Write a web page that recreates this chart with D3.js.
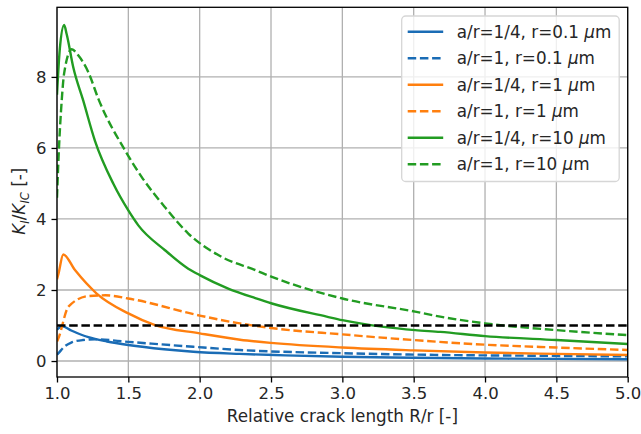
<!DOCTYPE html>
<html>
<head>
<meta charset="utf-8">
<script src="https://cdn.jsdelivr.net/npm/d3@7"></script>
<style>
  body { margin: 0; background: #fff; }
  text { font-family: "DejaVu Sans", sans-serif; fill: #262626; }
</style>
</head>
<body>
<svg id="chart"></svg>
<script>
const WIDTH = 641
const HEIGHT = 434

// series values, [R/r, KI/KIC]
const blueSolid = [[1.0, 0.88], [1.01, 0.92], [1.037, 0.98], [1.1, 0.86], [1.22, 0.67], [1.35, 0.55], [1.5, 0.45], [1.75, 0.33], [1.956, 0.26], [2.28, 0.2], [2.6, 0.16], [3.0, 0.12], [3.5, 0.09], [4.0, 0.07], [4.5, 0.06], [5.0, 0.05]]
const blueDashed = [[1.0, 0.18], [1.01, 0.22], [1.05, 0.4], [1.1, 0.52], [1.18, 0.59], [1.27, 0.61], [1.5, 0.54], [1.956, 0.4], [2.28, 0.31], [3.0, 0.22], [3.7, 0.17], [4.3, 0.15], [5.0, 0.13]]
const orangeSolid = [[1.0, 2.3], [1.01, 2.45], [1.044, 3.0], [1.126, 2.56], [1.278, 1.9], [1.5, 1.34], [1.687, 1.01], [2.0, 0.78], [2.283, 0.6], [2.5, 0.51], [3.0, 0.38], [3.5, 0.3], [4.0, 0.24], [4.5, 0.2], [5.0, 0.17]]
const orangeDashed = [[1.0, 0.55], [1.01, 0.64], [1.08, 1.53], [1.22, 1.83], [1.34, 1.85], [1.5, 1.76], [2.0, 1.28], [2.25, 1.08], [2.5, 0.93], [3.0, 0.75], [3.5, 0.59], [4.0, 0.46], [4.5, 0.38], [5.0, 0.31]]
const greenSolid = [[1.0, 7.5], [1.02, 8.8], [1.05, 9.46], [1.068, 9.2], [1.114, 8.27], [1.184, 7.33], [1.266, 6.2], [1.395, 4.99], [1.5, 4.24], [1.57, 3.82], [1.757, 3.12], [1.92, 2.6], [2.0, 2.42], [2.2, 2.04], [2.39, 1.77], [2.506, 1.62], [2.89, 1.25], [3.0, 1.15], [3.29, 0.96], [3.51, 0.87], [3.686, 0.82], [4.0, 0.7], [4.5, 0.59], [5.0, 0.48]]
const greenDashed = [[1.0, 4.6], [1.01, 5.65], [1.033, 7.33], [1.05, 8.1], [1.103, 8.78], [1.15, 8.6], [1.22, 8.13], [1.29, 7.38], [1.477, 5.93], [1.594, 5.18], [1.757, 4.33], [1.92, 3.59], [2.155, 2.93], [2.39, 2.56], [2.506, 2.37], [3.0, 1.76], [3.51, 1.39], [3.686, 1.25], [4.0, 1.06], [4.5, 0.87], [5.0, 0.73]]
const threshold = [[1.0, 1.0], [5.0, 1.0]]

const seriesNames = ["a/r=1/4, r=0.1 ", "a/r=1, r=0.1 ", "a/r=1/4, r=1 ", "a/r=1, r=1 ", "a/r=1/4, r=10 ", "a/r=1, r=10 "]
const seriesData = [blueSolid, blueDashed, orangeSolid, orangeDashed, greenSolid, greenDashed]
const seriesColors = ["#1a6cb5", "#1a6cb5", "#ff7f0e", "#ff7f0e", "#229c22", "#229c22"]
const seriesDashed = [false, true, false, true, false, true]

const xTicks = [1.0, 1.5, 2.0, 2.5, 3.0, 3.5, 4.0, 4.5, 5.0]
const yTicks = [0, 2, 4, 6, 8]

const margin = { left: 57, right: 13.3, top: 7.3, bottom: 57 }
const plotW = WIDTH - margin.left - margin.right
const plotH = HEIGHT - margin.top - margin.bottom
const DASH = "8.5,3.7"

let svg = d3.select("#chart")
  .attr("width", WIDTH)
  .attr("height", HEIGHT)

let x = d3.scaleLinear().domain([1, 5]).range([0, plotW])
let y = d3.scaleLinear().domain([-0.45, 9.96]).range([plotH, 0])

let g = svg.append("g")
  .attr("transform", `translate(${margin.left}, ${margin.top})`)

g.append("clipPath").attr("id", "clip")
  .append("rect").attr("width", plotW).attr("height", plotH)

// grid
g.append("g").selectAll("line")
  .data(xTicks).enter().append("line")
  .attr("x1", d => x(d)).attr("x2", d => x(d))
  .attr("y1", 0).attr("y2", plotH)
  .attr("stroke", "#b0b0b0").attr("stroke-width", 1.3)
g.append("g").selectAll("line")
  .data(yTicks).enter().append("line")
  .attr("x1", 0).attr("x2", plotW)
  .attr("y1", d => y(d)).attr("y2", d => y(d))
  .attr("stroke", "#b0b0b0").attr("stroke-width", 1.3)

let line = d3.line()
  .x(d => x(d[0]))
  .y(d => y(d[1]))
  .curve(d3.curveMonotoneX)

let lines = g.append("g").attr("clip-path", "url(#clip)")

seriesData.forEach((data, i) => {
  lines.append("path")
    .datum(data)
    .attr("d", line)
    .attr("fill", "none")
    .attr("stroke", seriesColors[i])
    .attr("stroke-width", 2.4)
    .attr("stroke-dasharray", seriesDashed[i] ? DASH : null)
})

lines.append("path")
  .datum(threshold)
  .attr("d", d3.line().x(d => x(d[0])).y(d => y(d[1])))
  .attr("fill", "none")
  .attr("stroke", "#000")
  .attr("stroke-width", 2.4)
  .attr("stroke-dasharray", DASH)

// axes
let xAxis = g.append("g")
  .attr("transform", `translate(0, ${plotH})`)
  .call(d3.axisBottom(x).tickValues(xTicks).tickFormat(d3.format(".1f")).tickSizeOuter(0).tickSize(5.5).tickPadding(5))
let yAxis = g.append("g")
  .call(d3.axisLeft(y).tickValues(yTicks).tickSizeOuter(0).tickSize(5.5).tickPadding(5))

;[xAxis, yAxis].forEach(ax => {
  ax.select(".domain").remove()
  ax.selectAll(".tick line").attr("stroke", "#000").attr("stroke-width", 1.3)
  ax.selectAll(".tick text")
    .style("font-family", "DejaVu Sans, sans-serif")
    .style("font-size", "16.5px")
    .attr("fill", "#262626")
})

g.append("rect")
  .attr("width", plotW).attr("height", plotH)
  .attr("fill", "none").attr("stroke", "#000").attr("stroke-width", 1.3)

// axis labels
svg.append("text")
  .attr("x", margin.left + plotW / 2)
  .attr("y", 422)
  .attr("text-anchor", "middle")
  .style("font-size", "16.8px")
  .text("Relative crack length R/r [-]")

let yLabel = svg.append("text")
  .attr("transform", `translate(25, ${margin.top + y(4.5)}) rotate(-90)`)
  .attr("text-anchor", "middle")
  .style("font-size", "16.8px")
yLabel.append("tspan").style("font-style", "italic").text("K")
yLabel.append("tspan").style("font-style", "italic").style("font-size", "11.5px").attr("dy", 4).text("I")
yLabel.append("tspan").attr("dy", -4).text("/")
yLabel.append("tspan").style("font-style", "italic").text("K")
yLabel.append("tspan").style("font-style", "italic").style("font-size", "11.5px").attr("dy", 4).text("IC")
yLabel.append("tspan").attr("dy", -4).text(" [-]")

// legend
let legend = svg.append("g")
  .attr("transform", "translate(401.7, 16)")

legend.append("rect")
  .attr("width", 217.5).attr("height", 165.5)
  .attr("rx", 4)
  .attr("fill", "#fff").attr("fill-opacity", 0.8)
  .attr("stroke", "#d6d6d6").attr("stroke-width", 1.3)

seriesNames.forEach((name, i) => {
  let row = legend.append("g")
    .attr("transform", `translate(0, ${15.7 + i * 26.5})`)
  row.append("line")
    .attr("x1", 6).attr("x2", 41.5)
    .attr("stroke", seriesColors[i])
    .attr("stroke-width", 2.4)
    .attr("stroke-dasharray", seriesDashed[i] ? DASH : null)
  let label = row.append("text")
    .attr("x", 55)
    .attr("y", 6)
    .style("font-size", "16.8px")
  label.append("tspan").text(name)
  label.append("tspan").style("font-style", "italic").text("μ")
  label.append("tspan").text("m")
})
</script>
</body>
</html>
